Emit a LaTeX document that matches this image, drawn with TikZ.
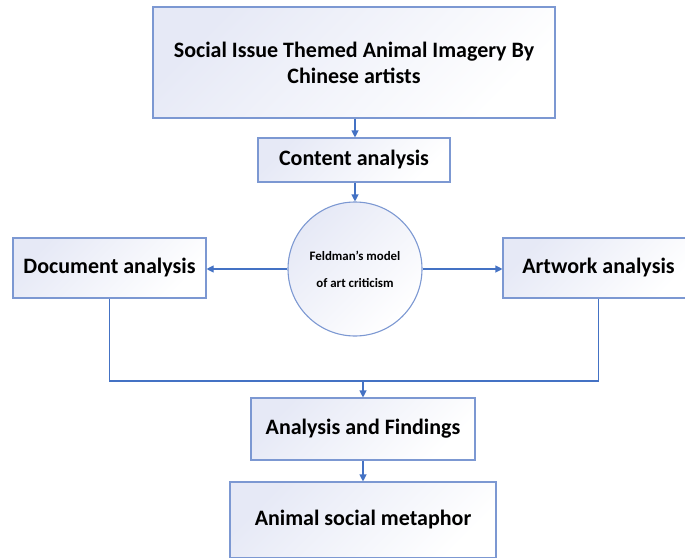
\documentclass[tikz,border=0pt]{standalone}
\usepackage{fontspec}
\setmainfont{Carlito}
\usetikzlibrary{arrows.meta}
\definecolor{edgeblue}{HTML}{7C98D2}
\definecolor{arrowblue}{HTML}{4472C4}
\definecolor{boxfill}{HTML}{E6E9F6}
\tikzset{
  box/.style={draw=edgeblue, line width=1.1pt, rectangle, top color=boxfill, bottom color=white, shading angle=45,
    font=\fontsize{22}{26}\selectfont\bfseries, align=center, inner sep=0pt},
  roundbox/.style={draw=edgeblue, line width=1.1pt, circle, top color=boxfill, bottom color=white, shading angle=45,
    font=\fontsize{12.9}{27}\selectfont\bfseries, align=center, inner sep=0pt, minimum size=134pt},
  conn/.style={draw=arrowblue, line width=1.1pt},
  arr/.style={conn, -{Triangle[length=7pt,width=7pt]}},
}
\begin{document}
\begin{tikzpicture}[x=1pt,y=-1pt]
\useasboundingbox (0,0) rectangle (685,557);
\clip (0,0) rectangle (685,557);
\node[box, minimum width=402pt, minimum height=111pt] (top) at (354,62.5) {Social Issue Themed Animal Imagery By\\Chinese artists};
\node[box, minimum width=192pt, minimum height=44pt] (content) at (354,160) {Content analysis};
\node[roundbox] (circ) at (355,269) {Feldman's model\\of art criticism};
\node[box, minimum width=193pt, minimum height=60pt] (doc) at (109.5,268) {Document analysis};
\node[box, minimum width=191pt, minimum height=60pt] (art) at (598.5,268) {Artwork analysis};
\node[box, minimum width=224pt, minimum height=62pt] (find) at (363,429) {Analysis and Findings};
\node[box, minimum width=266pt, minimum height=76pt] (meta) at (363,520) {Animal social metaphor};
\coordinate (merge) at (363,381);
\draw[arr] (top.south -| circ.north) -- (content.north -| circ.north);
\draw[arr] (content.south -| circ.north) -- (circ.north);
\draw[arr] (circ.west) -- (doc.east |- circ.west);
\draw[arr] (circ.east) -- (art.west |- circ.east);
\draw[conn] (doc.south) |- (merge) -| (art.south);
\draw[arr] (merge) -- (find.north);
\draw[arr] (find.south) -- (meta.north);
\end{tikzpicture}
\end{document}
